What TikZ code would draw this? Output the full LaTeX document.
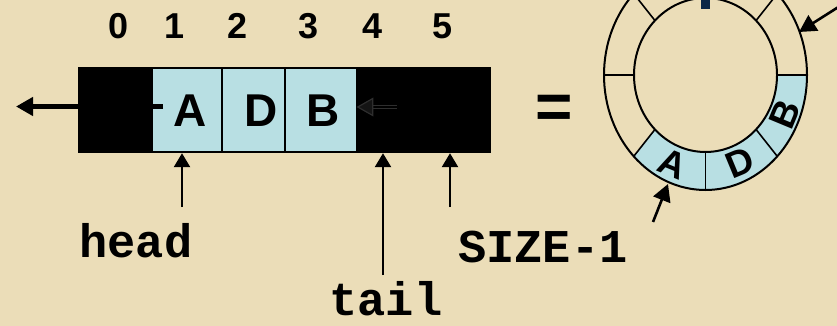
\documentclass[tikz,border=0pt]{standalone}
\usepackage{fontspec}
\setmainfont{Liberation Sans}
\setmonofont{Liberation Mono}
\usetikzlibrary{arrows.meta,calc}

\definecolor{parchment}{HTML}{EBDDB8}
\definecolor{cellblue}{HTML}{B8DFE3}
\definecolor{marknavy}{HTML}{0B2747}
\definecolor{dimarrow}{HTML}{2E2E2E}

\begin{document}
\begin{tikzpicture}[x=1pt,y=-1pt,
  idx/.style={font=\fontsize{36}{36}\selectfont\bfseries, inner sep=0, anchor=base},
  celltext/.style={font=\fontsize{46}{46}\selectfont\bfseries, inner sep=0, anchor=base},
  ringtext/.style={font=\fontsize{37}{37}\selectfont\bfseries, inner sep=0},
  codelabel/.style={font=\fontsize{47}{47}\selectfont\ttfamily\bfseries, inner sep=0, anchor=base},
  cellbox/.style={draw=black, line width=1.5pt, fill=cellblue, inner sep=0, minimum height=84pt},
  pointer/.style={line width=2.6pt, -{Triangle[length=14pt,width=16pt]}},
  bigpointer/.style={line width=5pt, -{Triangle[length=17pt,width=18pt]}},
  ringpointer/.style={line width=2.6pt, -{Triangle[length=17pt,width=18pt]}},
  ringline/.style={line width=2pt},
  divider/.style={line width=1.6pt}
]
% page and background
\useasboundingbox (0,0) rectangle (837,326);
\fill[parchment] (0,0) rectangle (837,326);

% ---------------- linear array ----------------
\node[fill=black, inner sep=0, minimum width=413pt, minimum height=86pt] (array) at (284.5,110) {};
\node[cellbox, minimum width=70pt] (cA) at (187,110) {};
\node[cellbox, minimum width=63pt] (cD) at (253.5,110) {};
\node[cellbox, minimum width=72pt] (cB) at (321,110) {};
\node[celltext] (tA) at (190,127) {A};
\node[celltext] (tD) at (261,127) {D};
\node[celltext] (tB) at (323,127) {B};

% indices
\node[idx] (i0) at (119,39) {0};
\node[idx] (i1) at (175,39) {1};
\node[idx] (i2) at (238,39) {2};
\node[idx] (i3) at (309,39) {3};
\node[idx] (i4) at (373,39) {4};
\node[idx] (i5) at (443,39) {5};

% outgoing arrow on the left and the faint arrow inside cell 4
\coordinate (lstart) at (163,106.5);
\coordinate (lend) at (16,106.5);
\draw[bigpointer] (lstart) -- (lend);
\coordinate (dstart) at (397,107);
\draw[dimarrow, line width=1.2pt, double=black, double distance=2.4pt] (dstart) -- (372,107);
\draw[dimarrow, line width=1.2pt, fill=black!92, line join=miter] (cB.east |- dstart) -- ++(15,-8.5) -- ++(0,17) -- cycle;

% pointers under the array
\coordinate (headfoot) at (182,207);
\coordinate (tailfoot) at (383,275);
\coordinate (sizefoot) at (450,207);
\draw[pointer] (headfoot) -- (headfoot |- array.south);
\draw[pointer] (tailfoot) -- (tailfoot |- array.south);
\draw[pointer] (sizefoot) -- (sizefoot |- array.south);

\node[codelabel] (head) at (136,257) {head};
\node[codelabel] (tail) at (386,315) {tail};
\node[codelabel] (size) at (543,262) {SIZE-1};

% equals sign
\node[font=\fontsize{64}{64}\selectfont\bfseries, inner sep=0] (eq) at (554,112) {=};

% ---------------- circular view ----------------
\coordinate (ring) at (705.5,75);
\fill[cellblue] ([shift={(225:101.5pt and 115pt)}]ring)
  arc[start angle=225, end angle=360, x radius=101.5pt, y radius=115pt]
  -- ([shift={(0:71.5pt and 77pt)}]ring)
  arc[start angle=360, end angle=225, x radius=71.5pt, y radius=77pt] -- cycle;
\draw[ringline] (ring) ellipse[x radius=101.5pt, y radius=115pt];
\draw[ringline] (ring) ellipse[x radius=71.5pt, y radius=77pt];
\foreach \a in {0,45,135,180,225,270,315}
  \draw[divider] ([shift={(\a:71.5pt and 77pt)}]ring) -- ([shift={(\a:101.5pt and 115pt)}]ring);
\fill[marknavy] (700.5,0) rectangle (709.5,9);

\node[ringtext, rotate=-22.5] (rA) at ([shift={(248:86.5pt and 96pt)}]ring) {A};
\node[ringtext, rotate=22.5] (rD) at ([shift={(293.5:86.5pt and 96pt)}]ring) {D};
\node[ringtext, rotate=67.5] (rB) at ([shift={(336:86.5pt and 96pt)}]ring) {B};

\coordinate (rtop) at (840,6);
\coordinate (rtopend) at (799,32);
\coordinate (rlow) at (653,222);
\coordinate (rlowend) at (668,184);
\draw[ringpointer] (rtop) -- (rtopend);
\draw[ringpointer] (rlow) -- (rlowend);
\end{tikzpicture}
\end{document}
